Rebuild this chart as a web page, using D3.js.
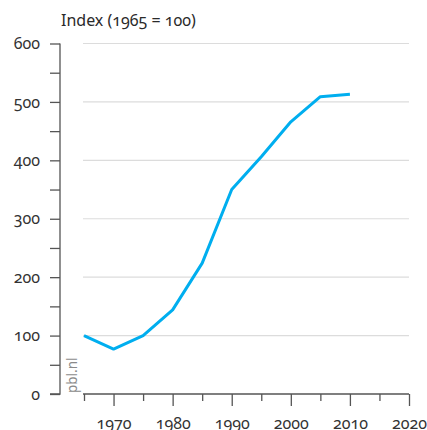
<!DOCTYPE html>
<html>
<head>
<meta charset="utf-8">
<script src="https://cdn.jsdelivr.net/npm/d3@7"></script>
<style>
  body { margin: 0; background: #fff; }
  svg text { font-family: "Noto Sans", sans-serif; font-feature-settings: "onum" 1; fill: #333; }
</style>
</head>
<body>
<div class="chart"></div>
<script>
var years = [1965, 1970, 1975, 1980, 1985, 1990, 1995, 2000, 2005, 2010];
var index = [100, 77, 100, 144, 224, 350, 406, 466, 509, 513];
var yTicks = [0, 100, 200, 300, 400, 500, 600];
var xLabels = [1970, 1980, 1990, 2000, 2010, 2020];

var svgWidth = 427;
var svgHeight = 430;

var svg = d3.select(".chart")
  .append("svg")
  .attr("width", svgWidth)
  .attr("height", svgHeight);

var x = d3.scaleLinear().domain([1965, 2020]).range([84, 409]);
var y = d3.scaleLinear().domain([0, 600]).range([394, 43.5]);

// gridlines
svg.append("g")
  .selectAll("line")
  .data(yTicks.slice(1))
  .enter()
  .append("line")
  .attr("x1", 83)
  .attr("x2", 409)
  .attr("y1", d => y(d))
  .attr("y2", d => y(d))
  .attr("stroke", "#dcdcdc")
  .attr("stroke-width", 1.2);

// y axis
var leftAxis = d3.axisLeft(y)
  .tickValues(d3.range(0, 601, 50))
  .tickSize(10)
  .tickPadding(10)
  .tickFormat(d => d % 100 === 0 ? d : "");

var gy = svg.append("g")
  .attr("transform", "translate(60,0)")
  .call(leftAxis);
gy.select(".domain").attr("d", "M0," + y(600) + "V" + y(0) + "H-10").attr("stroke", "#555").attr("stroke-width", 1.3);
gy.selectAll(".tick line").attr("stroke", "#555").attr("stroke-width", 1.3);
gy.selectAll(".tick text").attr("font-size", 16).attr("fill", "#2a2a2a");

// x axis
var bottomAxis = d3.axisBottom(x)
  .tickValues(d3.range(1965, 2021, 5))
  .tickSize(7)
  .tickPadding(9)
  .tickFormat(d => xLabels.indexOf(d) >= 0 ? d : "");

var gx = svg.append("g")
  .attr("transform", "translate(0,394)")
  .call(bottomAxis);
gx.select(".domain").attr("d", "M" + (x(1965) - 1) + ",0H" + x(2020)).attr("stroke", "#555").attr("stroke-width", 1.3);
gx.selectAll(".tick line")
  .attr("stroke", "#555")
  .attr("stroke-width", 1.3)
  .attr("y2", d => d % 10 === 0 ? 12 : 7);
gx.selectAll(".tick text").attr("font-size", 16).attr("fill", "#2a2a2a").attr("dy", "1.2em");

// line
var data = years.map((yr, i) => ({ year: yr, value: index[i] }));
svg.append("path")
  .datum(data)
  .attr("fill", "none")
  .attr("stroke", "#00aeef")
  .attr("stroke-width", 3)
  .attr("stroke-linejoin", "round")
  .attr("d", d3.line().x(d => x(d.year)).y(d => y(d.value)));

// title
svg.append("text")
  .attr("x", 61)
  .attr("y", 26)
  .attr("font-size", 16)
  .style("fill", "#2a2a2a")
  .text("Index (1965 = 100)");

// source
svg.append("text")
  .attr("transform", "translate(77,393) rotate(-90)")
  .attr("font-size", 13.5)
  .style("fill", "#8a8a8a")
  .text("pbl.nl");
</script>
</body>
</html>
